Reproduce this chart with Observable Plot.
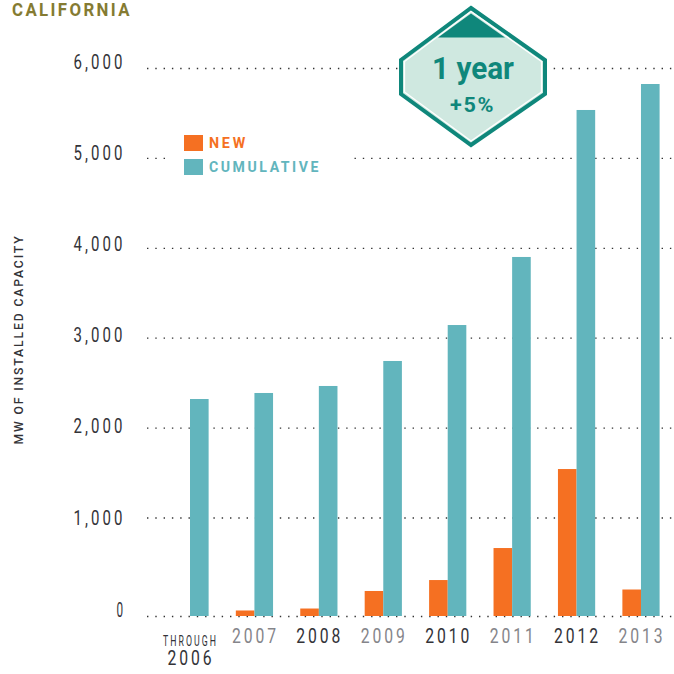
<!DOCTYPE html>
<html>
<head>
<meta charset="utf-8">
<style>
html,body{margin:0;padding:0;background:#fff}
svg{display:block;overflow:visible}
</style>
<script src="https://cdn.jsdelivr.net/npm/d3@7"></script>
<script src="https://cdn.jsdelivr.net/npm/@observablehq/plot@0.6"></script>
</head>
<body>
<div id="chart"></div>
<script>
const years = ["2006","2007","2008","2009","2010","2011","2012","2013"];
const newValues = [0,56,76,254,365,690,1539,269];
const cumulativeValues = [2318,2385,2463,2741,3141,3898,5533,5822];
const yearColors = ["#333338","#85858a","#333338","#85858a","#333338","#85858a","#333338","#85858a"];
const yTicks = [0,1000,2000,3000,4000,5000,6000];
const yTickOffsets = [-6,0.5,-1,-2,-4,-5,-6];
const ORANGE = "#f57022", TEAL = "#62b5bd", BADGE = "#0f877b";
const FONT = "Roboto,sans-serif";

const rowsNew = years.map((year,i)=>({year,value:newValues[i]})).filter(d=>d.value>0);
const rowsCum = years.map((year,i)=>({year,value:cumulativeValues[i]}));
const rowsYear = years.map((year,i)=>({year,color:yearColors[i]}));

const tickMarks = yTicks.map((v,i)=>Plot.text([v],{
  y:d=>d,text:d=>d3.format(",")(d),frameAnchor:"left",textAnchor:"end",
  dx:-22,dy:yTickOffsets[i],fontSize:19.5,fontFamily:FONT,fill:"#333338",className:"yl"
}));

const plot = Plot.plot({
  width:674,height:674,
  marginLeft:147,marginRight:2,marginTop:0,marginBottom:58,
  x:{type:"band",domain:years,range:[157.8,673.2],paddingInner:0.711,paddingOuter:0.3555,round:false,axis:null},
  y:{type:"linear",domain:[0,1000,6000],range:[616,517.5,68],axis:null},
  marks:[
    Plot.ruleY(yTicks,{stroke:"#333",strokeWidth:1.3,strokeDasharray:"1.4 6.9"}),
    Plot.barY(rowsNew,{x:"year",y:"value",dx:-9.3,fill:ORANGE}),
    Plot.barY(rowsCum,{x:"year",y:"value",dx:9.3,fill:TEAL}),
    ...tickMarks,
    Plot.text(rowsYear.slice(1),{x:"year",text:"year",fill:"color",frameAnchor:"bottom",dx:0.5,dy:26.5,fontSize:20.5,fontFamily:FONT,className:"xl"}),
    Plot.text(rowsYear.slice(0,1),{x:"year",text:"year",fill:"color",frameAnchor:"bottom",dx:0.5,dy:48,fontSize:20.5,fontFamily:FONT,className:"xl"}),
    Plot.text(rowsYear.slice(0,1),{x:"year",text:()=>"THROUGH",fill:"color",frameAnchor:"bottom",dy:29,fontSize:15,fontFamily:FONT,className:"th"})
  ]
});
document.getElementById("chart").appendChild(plot);

const svg = d3.select(plot);
// Condensed look: Roboto squeezed to the reference's text widths, with open letter spacing
function fit(sel, length, spacing){
  sel.attr("textLength",length).attr("lengthAdjust","spacingAndGlyphs").style("letter-spacing",spacing+"px");
}
svg.selectAll(".yl text").each(function(){
  const t=this.textContent;
  fit(d3.select(this), t==="0"?9:52, 4);
});
fit(svg.selectAll(".xl text"),47,3.8);
fit(svg.selectAll(".th text"),55,3.5);

const g = svg.append("g").attr("text-anchor","start");
function label(x,y,txt,size,color,len,spacing,weight){
  const t=g.append("text").attr("x",x).attr("y",y).attr("font-family",FONT)
    .attr("font-size",size).attr("font-weight",weight||500).attr("fill",color).text(txt);
  if(len) fit(t,len,spacing);
  return t;
}
// title
label(12,16.2,"CALIFORNIA",17.5,"#857b32",120,2.5,700);
// y title
g.append("text").attr("transform","translate(23,339.5) rotate(-90)").attr("text-anchor","middle")
  .attr("font-family",FONT).attr("font-weight",500).attr("font-size",13).attr("fill","#333338")
  .attr("textLength",210).attr("lengthAdjust","spacingAndGlyphs").style("letter-spacing","2px")
  .text("MW OF INSTALLED CAPACITY");
// legend
g.append("rect").attr("x",166).attr("y",128).attr("width",188).attr("height",50).attr("fill","#fff");
g.append("rect").attr("x",184).attr("y",135).attr("width",19).attr("height",16).attr("fill",ORANGE);
g.append("rect").attr("x",184).attr("y",159).attr("width",19).attr("height",16).attr("fill",TEAL);
label(209,148,"NEW",15.5,ORANGE,39,3,700);
label(209,172,"CUMULATIVE",15.5,TEAL,112,2.8,700);
// badge
const hex = "471,8 545,60 545,94 471,145 401,94 401,60";
g.append("polygon").attr("points",hex).attr("fill","#cfe8e0").attr("stroke",BADGE).attr("stroke-width",4);
g.append("polygon").attr("points","471,11.5 541.5,61.5 541.5,92 471,141 404.5,92 404.5,61.5").attr("fill","none").attr("stroke","#fff").attr("stroke-width",1.3);
g.append("polygon").attr("points","471,13.5 505,37.5 438,37.5").attr("fill",BADGE);
label(432,79,"1 year",31,BADGE,82,0,700);
label(450,112,"+5%",20,BADGE,45,1.5,700);
</script>
</body>
</html>
